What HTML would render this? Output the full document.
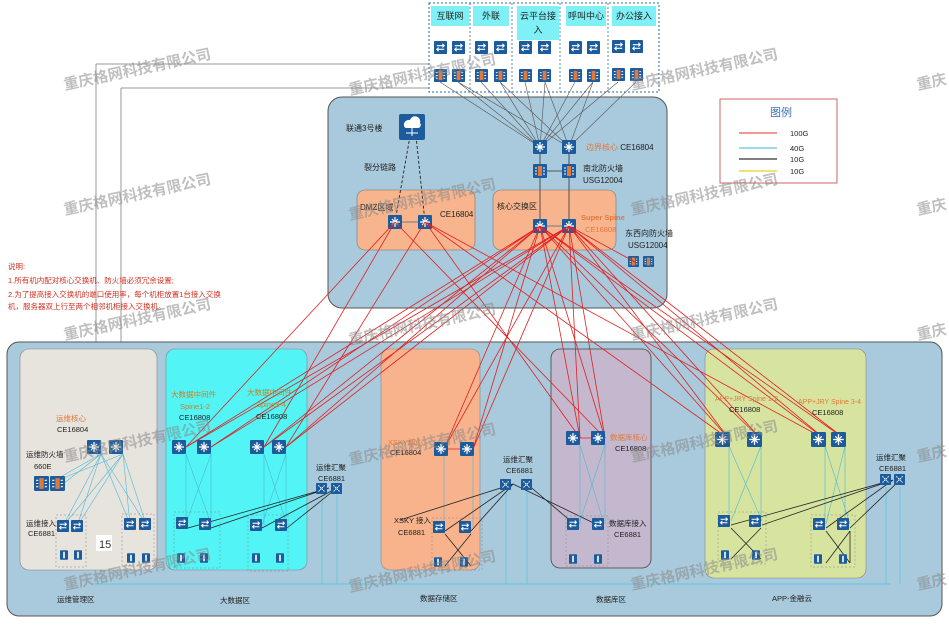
<!DOCTYPE html>
<html><head><meta charset="utf-8"><style>
html,body{margin:0;padding:0;background:#fff;}
svg{display:block;font-family:"Liberation Sans","Noto Sans CJK SC",sans-serif;}
</style></head><body>
<svg width="949" height="631" viewBox="0 0 949 631" xmlns="http://www.w3.org/2000/svg">
<defs>
<symbol id="sw" viewBox="0 0 14 14"><rect width="14" height="14" rx="1" fill="#1d5c9c"/><path d="M7 2v10M2 7h10M4 4l6 6M10 4l-6 6" stroke="#fff" stroke-width="1.2" fill="none"/></symbol>
<symbol id="ac" viewBox="0 0 14 14"><rect width="14" height="14" rx="1" fill="#1d5c9c"/><path d="M3 5h8M3 9h8M9 3l2 2-2 2M5 7l-2 2 2 2" stroke="#fff" stroke-width="1.2" fill="none"/></symbol>
<symbol id="fw" viewBox="0 0 14 14"><rect width="14" height="14" rx="1" fill="#1d5c9c"/><rect x="5" y="2" width="4" height="10" fill="#e07a3c"/><path d="M2 4h2M2 7h2M2 10h2M10 4h2M10 7h2M10 10h2" stroke="#fff" stroke-width="1"/></symbol>
<symbol id="ag" viewBox="0 0 14 14"><rect width="14" height="14" rx="1" fill="#1d5c9c"/><path d="M3 3l8 8M11 3l-8 8" stroke="#fff" stroke-width="1.2" stroke-dasharray="2 1"/></symbol>
<symbol id="sv" viewBox="0 0 10 12"><rect width="10" height="12" rx="1" fill="#1d5c9c"/><rect x="4" y="2" width="2" height="8" fill="#fff"/></symbol>
</defs>

<!-- left long lines -->
<path d="M96 64H430M121 88H430M96 64V584M121 88V584" stroke="#999" stroke-width="1" fill="none"/>

<!-- top dashed zones -->
<g stroke="#2a6f9a" stroke-width="1" stroke-dasharray="2 2" fill="#fff">
<rect x="429" y="3" width="230" height="89"/>
</g>
<g stroke="#2a6f9a" stroke-width="0.8" stroke-dasharray="2 2" fill="none">
<path d="M470 3V92M512 3V92M560 3V92M608 3V92"/>
</g>
<g fill="#7ff0f5">
<rect x="431" y="6" width="38" height="20"/><rect x="473" y="6" width="36" height="20"/><rect x="517" y="6" width="42" height="34"/><rect x="566" y="6" width="40" height="20"/><rect x="612" y="6" width="44" height="20"/>
</g>
<g font-size="9" fill="#222" text-anchor="middle">
<text x="450" y="19">互联网</text><text x="491" y="19">外联</text><text x="538" y="19">云平台接</text><text x="538" y="33">入</text><text x="586" y="19">呼叫中心</text><text x="634" y="19">办公接入</text>
</g>
<g>
<use href="#ac" x="434" y="41" width="13" height="13"/><use href="#ac" x="452" y="41" width="13" height="13"/>
<use href="#ac" x="475" y="41" width="13" height="13"/><use href="#ac" x="494" y="41" width="13" height="13"/>
<use href="#ac" x="519" y="41" width="13" height="13"/><use href="#ac" x="538" y="41" width="13" height="13"/>
<use href="#ac" x="569" y="41" width="13" height="13"/><use href="#ac" x="587" y="41" width="13" height="13"/>
<use href="#ac" x="612" y="40" width="13" height="13"/><use href="#ac" x="630" y="40" width="13" height="13"/>
<use href="#fw" x="434" y="69" width="13" height="13"/><use href="#fw" x="452" y="69" width="13" height="13"/>
<use href="#fw" x="475" y="69" width="13" height="13"/><use href="#fw" x="494" y="69" width="13" height="13"/>
<use href="#fw" x="519" y="69" width="13" height="13"/><use href="#fw" x="538" y="69" width="13" height="13"/>
<use href="#fw" x="569" y="69" width="13" height="13"/><use href="#fw" x="587" y="69" width="13" height="13"/>
<use href="#fw" x="612" y="68" width="13" height="13"/><use href="#fw" x="630" y="68" width="13" height="13"/>
</g>

<!-- top core panel -->
<rect x="328" y="97" width="339" height="211" rx="14" fill="#a9c9dc" stroke="#555" stroke-width="1"/>
<rect x="357" y="190" width="118" height="60" rx="8" fill="#f8b48d" stroke="#777" stroke-width="0.6"/>
<rect x="493" y="190" width="123" height="60" rx="8" fill="#f8b48d" stroke="#777" stroke-width="0.6"/>
<!-- gray links top -->
<g stroke="#555" stroke-width="0.6" fill="none">
<path d="M440 82L540 147M458 82L569 147M481 82L540 147M500 82L569 147M525 82L540 147M545 82L569 147M575 82L540 147M593 82L569 147M618 82L540 147M636 82L569 147M458 82L540 147M500 82L540 147M545 82L540 147M593 82L540 147M636 82L569 147"/>
<path d="M540 147V226M569 147V226M547 171H562" stroke="#333" stroke-width="0.8"/>
</g>
<path d="M410 136L395 222M416 136L425 222" stroke="#222" stroke-width="0.9" stroke-dasharray="3 2" fill="none"/>
<path d="M395 222H425M540 226H569" stroke="#777" stroke-width="1"/>
<rect x="399" y="114" width="26" height="26" rx="2" fill="#1d5c9c"/>
<path d="M404 126a5 5 0 0 1 6-6a5 5 0 0 1 10 3a3 3 0 0 1-2 5h-12a3 3 0 0 1-2-2z" fill="#fff"/>
<path d="M412 128v8M406 133h12" stroke="#fff" stroke-width="1"/>
<g>
<use href="#sw" x="533" y="140" width="14" height="14"/><use href="#sw" x="562" y="140" width="14" height="14"/>
<use href="#fw" x="533" y="164" width="14" height="14"/><use href="#fw" x="562" y="164" width="14" height="14"/>
<use href="#sw" x="388" y="215" width="14" height="14"/><use href="#sw" x="418" y="215" width="14" height="14"/>
<use href="#sw" x="533" y="219" width="14" height="14"/><use href="#sw" x="562" y="219" width="14" height="14"/>
<use href="#fw" x="628" y="256" width="11" height="11"/><use href="#fw" x="643" y="256" width="11" height="11"/>
</g>
<g font-size="8" fill="#222">
<text x="346" y="131">联通3号楼</text>
<text x="364" y="170">裂分链路</text>
<text x="360" y="210">DMZ区域</text>
<text x="440" y="217">CE16804</text>
<text x="497" y="209">核心交换区</text>
<text x="586" y="150"><tspan fill="#e07a3c">边界核心</tspan> CE16804</text>
<text x="583" y="171">南北防火墙</text><text x="583" y="183">USG12004</text>
<text x="581" y="220" fill="#e07a3c" font-weight="bold" font-size="7.5">Super Spine</text>
<text x="585" y="232" fill="#e07a3c" font-size="7.5">CE16808</text>
<text x="625" y="236">东西向防火墙</text><text x="628" y="248">USG12004</text>
</g>

<!-- legend -->
<rect x="720" y="99" width="117" height="84" fill="#fff" stroke="#c66" stroke-width="1"/>
<text x="770" y="116" font-size="11" fill="#3a6fb0">图例</text>
<g stroke-width="1.3"><path d="M739 133H777" stroke="#e35b5b"/><path d="M739 148H777" stroke="#5cc8e0"/><path d="M739 159H777" stroke="#333"/><path d="M739 171H777" stroke="#e8d020"/></g>
<g font-size="7.5" fill="#222"><text x="790" y="136">100G</text><text x="790" y="151">40G</text><text x="790" y="162">10G</text><text x="790" y="174">10G</text></g>

<!-- notes -->
<g font-size="7.5" fill="#d03020">
<text x="8" y="269">说明:</text>
<text x="8" y="283">1.所有机内配对核心交换机、防火墙必须冗余设置;</text>
<text x="8" y="297">2.为了提高接入交换机的端口使用率，每个机柜放置1台接入交换</text>
<text x="8" y="309">机，服务器双上行至两个相邻机柜接入交换机。</text>
</g>

<!-- bottom panel -->
<rect x="7" y="342" width="935" height="274" rx="12" fill="#a9c9dc" stroke="#555" stroke-width="1"/>
<rect x="20" y="349" width="137" height="221" rx="9" fill="#e7e3dd" stroke="#888" stroke-width="0.6"/>
<rect x="166" y="349" width="141" height="221" rx="9" fill="#52f4f5" stroke="#888" stroke-width="0.6"/>
<rect x="381" y="349" width="99" height="221" rx="9" fill="#f8b38c" stroke="#888" stroke-width="0.6"/>
<rect x="551" y="349" width="100" height="219" rx="9" fill="#c3b8cd" stroke="#444" stroke-width="0.8"/>
<rect x="705" y="349" width="161" height="229" rx="9" fill="#d7e4a0" stroke="#888" stroke-width="0.6"/>
<path d="M95 584H890" stroke="#5cc8e0" stroke-width="1"/>
<path d="M322 495V584M337 495V584M506 491V584M527 491V584M886 487V584M900 487V584" stroke="#5cc8e0" stroke-width="0.8"/>

<!-- red links -->
<g stroke="#e02020" stroke-width="0.8" fill="none">
<path d="M540 226L186 447M540 226L211 447M540 226L264 447M540 226L286 447M540 226L444 449M540 226L473 449M540 226L580 438M540 226L605 438M540 226L729 439M540 226L761 439M540 226L825 439M540 226L845 439"/>
<path d="M569 226L186 447M569 226L211 447M569 226L264 447M569 226L286 447M569 226L444 449M569 226L473 449M569 226L580 438M569 226L605 438M569 226L729 439M569 226L761 439M569 226L825 439M569 226L845 439M569 226L635 262"/>
<path d="M395 222L264 447M395 222L186 447M425 222L580 438M425 222L729 439M425 222L825 439M395 222L605 438M425 222L286 447"/>
<path d="M444 449H473M580 438H605"/>
</g>

<!-- cyan/gray internal links -->
<g stroke="#4fb8d8" stroke-width="0.6" fill="none">
<path d="M101 454L63 526M101 454L77 526M101 454L130 524M101 454L146 524M123 454L63 526M123 454L77 526M123 454L130 524M123 454L146 524M101 454L48 484M101 454L63 484M123 454L48 484"/>
<path d="M186 454V523M186 454L211 524M211 454L186 523M211 454V524M264 454V525M264 454L287 525M286 454L262 525M286 454V525"/>
<path d="M729 446V521M729 446L762 521M761 446L731 521M761 446V521M825 446V524M825 446L850 524M845 446L826 524M845 446V524"/>
<path d="M444 456V527M473 456V527M580 445V524M580 445L604 524M605 445L579 524M605 445V524"/>
</g>
<g stroke="#222" stroke-width="0.8" fill="none">
<path d="M329 488L211 528M329 488L188 528M337 488L262 528M337 488L287 528"/>
<path d="M513 484L445 531M513 484L471 531M527 484L579 528M513 484L604 528M513 484L400 520"/>
<path d="M893 480L731 525M893 480L762 525M893 480L826 528M900 480L850 528"/>
<path d="M445 534L471 566M471 534L445 566M731 528L761 559M761 528L731 559M826 531L850 563M850 531L826 563M850 531V563"/>
</g>
<g stroke="#888" stroke-width="0.5" stroke-dasharray="2 2" fill="none">
<rect x="56" y="515" width="30" height="52"/><rect x="122" y="514" width="32" height="52"/>
<rect x="174" y="512" width="46" height="56"/><rect x="248" y="515" width="40" height="56"/>
<rect x="432" y="518" width="50" height="52"/><rect x="566" y="516" width="42" height="50"/>
<rect x="718" y="512" width="48" height="52"/><rect x="811" y="515" width="44" height="52"/>
</g>
<rect x="96" y="535" width="16" height="16" fill="#fff"/><text x="99" y="548" font-size="11" fill="#333">15</text>

<!-- bottom devices -->
<g>
<use href="#sw" x="87" y="440" width="14" height="14"/><use href="#sw" x="109" y="440" width="14" height="14"/>
<use href="#fw" x="34" y="476" width="15" height="15"/><use href="#fw" x="50" y="476" width="15" height="15"/>
<use href="#ac" x="57" y="520" width="12" height="12"/><use href="#ac" x="71" y="520" width="12" height="12"/>
<use href="#ac" x="124" y="518" width="12" height="12"/><use href="#ac" x="139" y="518" width="12" height="12"/>
<use href="#sv" x="60" y="550" width="8" height="10"/><use href="#sv" x="74" y="550" width="8" height="10"/>
<use href="#sv" x="127" y="553" width="8" height="10"/><use href="#sv" x="142" y="553" width="8" height="10"/>

<use href="#sw" x="172" y="440" width="14" height="14"/><use href="#sw" x="197" y="440" width="14" height="14"/>
<use href="#sw" x="250" y="440" width="14" height="14"/><use href="#sw" x="272" y="440" width="14" height="14"/>
<use href="#ac" x="176" y="517" width="12" height="12"/><use href="#ac" x="199" y="518" width="12" height="12"/>
<use href="#ac" x="250" y="519" width="12" height="12"/><use href="#ac" x="275" y="519" width="12" height="12"/>
<use href="#sv" x="177" y="553" width="8" height="10"/><use href="#sv" x="200" y="553" width="8" height="10"/>
<use href="#sv" x="252" y="553" width="8" height="10"/><use href="#sv" x="276" y="553" width="8" height="10"/>
<use href="#ag" x="316" y="483" width="11" height="11"/><use href="#ag" x="331" y="483" width="11" height="11"/>

<use href="#sw" x="434" y="442" width="14" height="14"/><use href="#sw" x="460" y="442" width="14" height="14"/>
<use href="#ac" x="433" y="521" width="12" height="12"/><use href="#ac" x="459" y="521" width="12" height="12"/>
<use href="#sv" x="434" y="557" width="8" height="10"/><use href="#sv" x="460" y="557" width="8" height="10"/>
<use href="#ag" x="500" y="479" width="11" height="11"/><use href="#ag" x="521" y="479" width="11" height="11"/>

<use href="#sw" x="566" y="431" width="14" height="14"/><use href="#sw" x="591" y="431" width="14" height="14"/>
<use href="#ac" x="567" y="518" width="12" height="12"/><use href="#ac" x="592" y="518" width="12" height="12"/>
<use href="#sv" x="569" y="554" width="8" height="10"/><use href="#sv" x="594" y="554" width="8" height="10"/>

<use href="#sw" x="715" y="432" width="15" height="15"/><use href="#sw" x="747" y="432" width="15" height="15"/>
<use href="#sw" x="811" y="432" width="15" height="15"/><use href="#sw" x="831" y="432" width="15" height="15"/>
<use href="#ac" x="718" y="515" width="12" height="12"/><use href="#ac" x="749" y="515" width="12" height="12"/>
<use href="#ac" x="813" y="518" width="12" height="12"/><use href="#ac" x="837" y="518" width="12" height="12"/>
<use href="#sv" x="721" y="550" width="8" height="10"/><use href="#sv" x="752" y="550" width="8" height="10"/>
<use href="#sv" x="814" y="554" width="8" height="10"/><use href="#sv" x="839" y="554" width="8" height="10"/>
<use href="#ag" x="880" y="474" width="11" height="11"/><use href="#ag" x="894" y="474" width="11" height="11"/>
</g>

<!-- bottom labels -->
<g font-size="7.5" fill="#222">
<text x="56" y="421" fill="#e07a3c">运维核心</text><text x="57" y="432">CE16804</text>
<text x="26" y="457">运维防火墙</text><text x="34" y="469">660E</text>
<text x="26" y="526">运维接入</text><text x="28" y="536">CE6881</text>
<text x="171" y="397" fill="#d08020">大数据中间件</text><text x="180" y="409" fill="#d08020">Spine1-2</text><text x="179" y="420">CE16808</text>
<text x="247" y="395" fill="#d08020">大数据中间件</text><text x="256" y="407" fill="#d08020">Spine3-4</text><text x="256" y="419">CE16808</text>
<text x="316" y="470">运维汇聚</text><text x="318" y="481">CE6881</text>
<text x="388" y="445" fill="#e07a3c">XSKY核心</text><text x="390" y="455">CE16804</text>
<text x="394" y="523">XSKY 接入</text><text x="398" y="535">CE6881</text>
<text x="503" y="462">运维汇聚</text><text x="506" y="473">CE6881</text>
<text x="610" y="440" fill="#e07a3c">数据库核心</text><text x="615" y="451">CE16808</text>
<text x="609" y="526">数据库接入</text><text x="614" y="537">CE6881</text>
<text x="715" y="401" fill="#e07a3c" font-size="7">APP+JRY Spine 1-2</text><text x="729" y="412">CE16808</text>
<text x="798" y="404" fill="#e07a3c" font-size="7">APP+JRY Spine 3-4</text><text x="812" y="415">CE16808</text>
<text x="876" y="460">运维汇聚</text><text x="879" y="471">CE6881</text>
<text x="57" y="602">运维管理区</text><text x="220" y="603">大数据区</text><text x="420" y="601">数据存储区</text>
<text x="596" y="602">数据库区</text><text x="772" y="601">APP-金融云</text>
</g>

<!-- watermarks -->
<g font-size="15" fill="#8a8a8a" fill-opacity="0.55" font-weight="bold">
<text transform="translate(65,90) rotate(-12)">重庆格网科技有限公司</text>
<text transform="translate(350,95) rotate(-12)">重庆格网科技有限公司</text>
<text transform="translate(632,90) rotate(-12)">重庆格网科技有限公司</text>
<text transform="translate(918,90) rotate(-12)">重庆</text>
<text transform="translate(65,215) rotate(-12)">重庆格网科技有限公司</text>
<text transform="translate(350,220) rotate(-12)">重庆格网科技有限公司</text>
<text transform="translate(632,215) rotate(-12)">重庆格网科技有限公司</text>
<text transform="translate(918,215) rotate(-12)">重庆</text>
<text transform="translate(65,340) rotate(-12)">重庆格网科技有限公司</text>
<text transform="translate(350,345) rotate(-12)">重庆格网科技有限公司</text>
<text transform="translate(632,340) rotate(-12)">重庆格网科技有限公司</text>
<text transform="translate(918,340) rotate(-12)">重庆</text>
<text transform="translate(65,462) rotate(-12)">重庆格网科技有限公司</text>
<text transform="translate(350,465) rotate(-12)">重庆格网科技有限公司</text>
<text transform="translate(632,462) rotate(-12)">重庆格网科技有限公司</text>
<text transform="translate(918,462) rotate(-12)">重庆</text>
<text transform="translate(65,590) rotate(-12)">重庆格网科技有限公司</text>
<text transform="translate(350,592) rotate(-12)">重庆格网科技有限公司</text>
<text transform="translate(632,590) rotate(-12)">重庆格网科技有限公司</text>
<text transform="translate(918,590) rotate(-12)">重庆</text>
</g>
</svg>
</body></html>
